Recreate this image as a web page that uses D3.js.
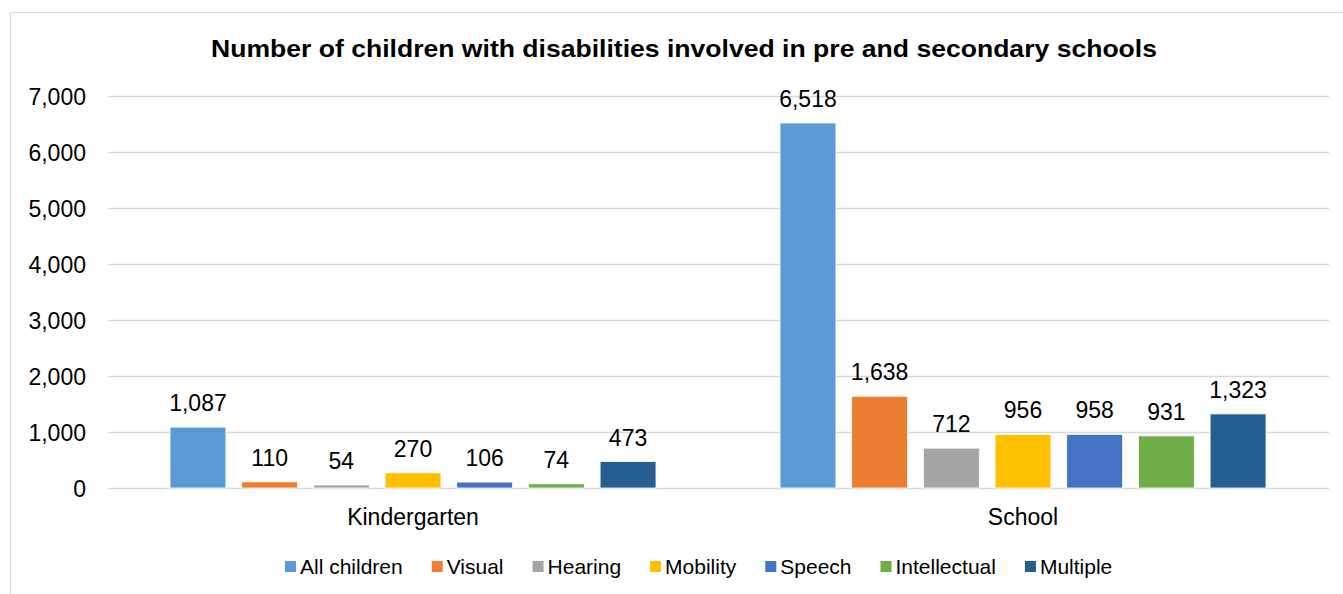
<!DOCTYPE html>
<html><head><meta charset="utf-8">
<script src="https://cdn.jsdelivr.net/npm/d3@7"></script>
<style>body{margin:0;background:#fff}svg{display:block;font-family:"Liberation Sans",Arial,sans-serif}</style>
</head><body><svg id="c" width="1343" height="594"></svg>
<script>
const categories = ["Kindergarten", "School"];
const seriesNames = ["All children", "Visual", "Hearing", "Mobility", "Speech", "Intellectual", "Multiple"];
const kindergartenValues = [1087, 110, 54, 270, 106, 74, 473];
const schoolValues = [6518, 1638, 712, 956, 958, 931, 1323];
const yTicks = [0, 1000, 2000, 3000, 4000, 5000, 6000, 7000];
const colors = ["#5B9BD5", "#ED7D31", "#A5A5A5", "#FFC000", "#4472C4", "#70AD47", "#255E91"];
const title = "Number of children with disabilities involved in pre and secondary schools";

const values = [kindergartenValues, schoolValues];
const svg = d3.select("#c");
const fmt = d3.format(",");

svg.append("rect").attr("x",10.5).attr("y",12.5).attr("width",1345).attr("height",600)
  .attr("fill","#fff").attr("stroke","#d9d9d9").attr("stroke-width",1);

svg.append("text").attr("x",684).attr("y",56.5).attr("text-anchor","middle")
  .attr("font-weight","bold").attr("font-size",24).attr("fill","#000")
  .attr("textLength",946).attr("lengthAdjust","spacingAndGlyphs").text(title);

const y = d3.scaleLinear().domain([0,7000]).range([488,96]);
const x0 = d3.scaleBand().domain(categories).range([108,1328]);
const x1 = d3.scaleBand().domain(seriesNames).range([62,548]).paddingInner(0.22);
const color = d3.scaleOrdinal().domain(seriesNames).range(colors);

// gridlines
svg.append("g").selectAll("line").data(yTicks).join("line")
  .attr("x1",108).attr("x2",1329).attr("y1",d=>Math.round(y(d))+0.5).attr("y2",d=>Math.round(y(d))+0.5)
  .attr("stroke","#d9d9d9").attr("stroke-width",1.3);

// y axis labels
const yAxis = d3.axisLeft(y).tickValues(yTicks).tickFormat(fmt).tickSize(0).tickPadding(0);
const ga = svg.append("g").attr("transform","translate(86,0)").call(yAxis);
ga.select(".domain").remove();
ga.selectAll("text").attr("font-size",23).attr("fill","#000").attr("font-family","Liberation Sans, Arial, sans-serif").attr("dy","0.36em");

// bars
const groups = svg.append("g").selectAll("g").data(categories).join("g")
  .attr("transform",c=>`translate(${x0(c)},0)`);
groups.selectAll("rect").data((c,i)=>seriesNames.map((s,j)=>({s,v:values[i][j]}))).join("rect")
  .attr("x",d=>x1(d.s)).attr("width",x1.bandwidth())
  .attr("y",d=>y(d.v)).attr("height",d=>y(0)-y(d.v))
  .attr("fill",d=>color(d.s)).attr("stroke","#fff").attr("stroke-width",0.8);
groups.selectAll("text").data((c,i)=>seriesNames.map((s,j)=>({s,v:values[i][j]}))).join("text")
  .attr("x",d=>x1(d.s)+x1.bandwidth()/2).attr("y",d=>y(d.v)-16)
  .attr("text-anchor","middle").attr("font-size",23).attr("fill","#000").text(d=>fmt(d.v));

// category labels
const xAxis = d3.axisBottom(x0).tickSize(0).tickPadding(0);
const gx = svg.append("g").attr("transform","translate(0,488)").call(xAxis);
gx.select(".domain").remove();
gx.selectAll("text").attr("font-size",23).attr("fill","#000").attr("font-family","Liberation Sans, Arial, sans-serif").attr("dy","0").attr("y",37);

// legend
const lg = svg.append("g").attr("transform","translate(285,566)");
let xpos = 0;
seriesNames.forEach((s,i)=>{
  const g = lg.append("g").attr("transform",`translate(${xpos},0)`);
  g.append("rect").attr("x",0).attr("y",-5).attr("width",11).attr("height",11).attr("fill",colors[i]);
  const t = g.append("text").attr("x",15).attr("y",0).attr("dy","0.36em").attr("font-size",21).attr("fill","#000").text(s);
  xpos += 15 + t.node().getComputedTextLength() + 29;
});
</script></body></html>
